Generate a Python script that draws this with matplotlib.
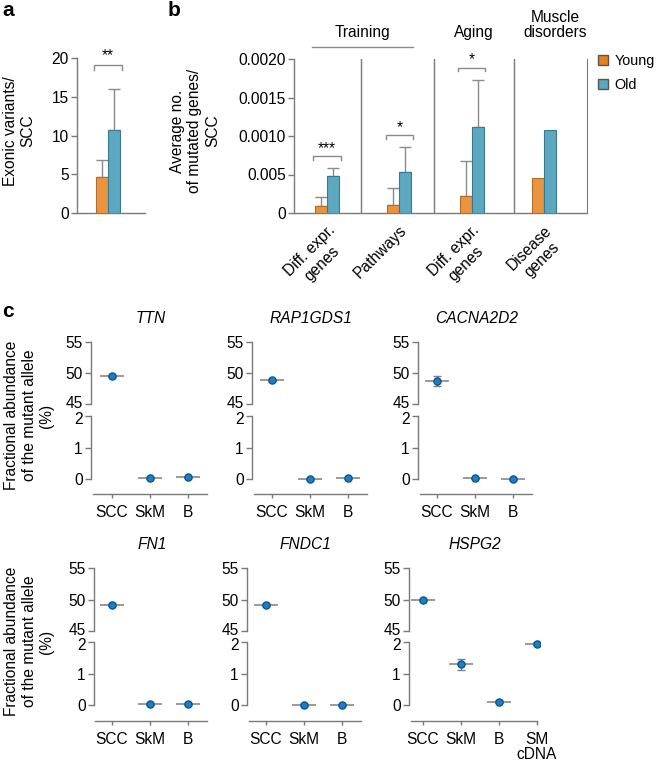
import matplotlib
matplotlib.use("Agg")
import matplotlib.pyplot as plt
from matplotlib.patches import Patch
from matplotlib.lines import Line2D
from matplotlib.transforms import ScaledTranslation

plt.rcParams['font.family'] = ['Liberation Sans', 'DejaVu Sans']
FS = 11.2
plt.rcParams['font.size'] = FS

# ---------------- data ----------------
# panel a
a_groups = ["Young", "Old"]
a_means = [4.7, 10.7]
a_err = [2.1, 5.3]

# panel b
b_categories = ["Diff. expr.\ngenes", "Pathways", "Diff. expr.\ngenes", "Disease\ngenes"]
b_young = [0.000087, 0.000104, 0.000221, 0.00045]
b_young_err = [0.000121, 0.000225, 0.000459, 0.0]
b_old = [0.000485, 0.000532, 0.00112, 0.00108]
b_old_err = [0.000099, 0.000325, 0.00061, 0.0]
b_sig = ["***", "*", "*", ""]
b_yticks = [0, 0.0005, 0.0010, 0.0015, 0.0020]
b_yticklabels = ["0", "0.005", "0.0010", "0.0015", "0.0020"]
b_headers = ["Training", "Aging", "Muscle\ndisorders"]

# panel c
c_genes = ["TTN", "RAP1GDS1", "CACNA2D2", "FN1", "FNDC1", "HSPG2"]
c_samples = [["SCC", "SkM", "B"]] * 5 + [["SCC", "SkM", "B", "SM\ncDNA"]]
c_values = [
    [49.55, 0.03, 0.05],
    [48.9, 0.0, 0.03],
    [48.7, 0.02, 0.0],
    [49.2, 0.04, 0.04],
    [49.2, 0.0, 0.0],
    [49.95, 1.29, 0.10, 1.95],
]
c_errors = [
    [0.2, 0.02, 0.02],
    [0.15, 0.02, 0.02],
    [0.75, 0.02, 0.02],
    [0.3, 0.03, 0.03],
    [0.2, 0.02, 0.02],
    [0.2, 0.17, 0.05, 0.05],
]

# ---------------- style ----------------
ORANGE = "#EB9440"
ORANGE_E = "#B06E2C"
TEAL = "#5BA8C0"
TEAL_E = "#3B7A8E"
SPINE = "#7a7a7a"
ERR = "#8a8a8a"
DOT = "#1C7FC6"
DOT_E = "#0B4F8A"

W, H = 656, 762
fig = plt.figure(figsize=(W / 100, H / 100), dpi=100)


def px_axes(x0, y0, x1, y1):
    return fig.add_axes([x0 / W, 1 - y1 / H, (x1 - x0) / W, (y1 - y0) / H])


def fx(x):
    return x / W


def fy(y):
    return 1 - y / H


def style_axes(ax):
    for s in ["top", "right"]:
        ax.spines[s].set_visible(False)
    for s in ["left", "bottom"]:
        ax.spines[s].set_color(SPINE)
        ax.spines[s].set_linewidth(1.0)
    ax.tick_params(axis="both", color=SPINE, length=4, width=1.0, labelsize=FS, pad=2)


# ---------------- panel a ----------------
axa = px_axes(77, 58, 145, 213)
style_axes(axa)
xa = [-0.2, 0.2]
axa.bar(xa, a_means, width=0.4, color=[ORANGE, TEAL], edgecolor=[ORANGE_E, TEAL_E], linewidth=0.8, zorder=3)
axa.errorbar(xa, a_means, yerr=[[0, 0], a_err], fmt="none", ecolor=ERR, elinewidth=1.0, capsize=4, capthick=1.0, zorder=2)
axa.set_ylim(0, 20)
axa.set_xlim(-1.033, 1.233)
axa.set_yticks([0, 5, 10, 15, 20])
axa.set_xticks([])
# significance bracket
axa.plot([-0.45, -0.45, 0.45, 0.45], [18.5, 19.1, 19.1, 18.5], color=ERR, lw=1.0, clip_on=False)
axa.text(0, 19.3, "**", ha="center", va="bottom", fontsize=FS)
fig.text(fx(19), fy(131), "Exonic variants/\nSCC", rotation=90, ha="center", va="center",
         multialignment="center", fontsize=FS)
fig.text(fx(8), fy(11), "a", fontsize=15, fontweight="bold", ha="center", va="center")

# ---------------- panel b ----------------
axb = px_axes(294, 59, 587, 213)
style_axes(axb)
axb.spines["right"].set_visible(True)
axb.spines["right"].set_color(SPINE)
xb = list(range(len(b_categories)))
bw = 0.166
axb.bar([x - bw / 2 for x in xb], b_young, width=bw, color=ORANGE, edgecolor=ORANGE_E, linewidth=0.8, zorder=3)
axb.bar([x + bw / 2 for x in xb], b_old, width=bw, color=TEAL, edgecolor=TEAL_E, linewidth=0.8, zorder=3)
for i in xb:
    if b_young_err[i] > 0:
        axb.errorbar(i - bw / 2, b_young[i], yerr=[[0], [b_young_err[i]]], fmt="none", ecolor=ERR,
                     elinewidth=1.0, capsize=4, capthick=1.0, zorder=2)
    if b_old_err[i] > 0:
        axb.errorbar(i + bw / 2, b_old[i], yerr=[[0], [b_old_err[i]]], fmt="none", ecolor=ERR,
                     elinewidth=1.0, capsize=4, capthick=1.0, zorder=2)
    if b_sig[i]:
        top = b_old[i] + b_old_err[i] + 0.00011
        axb.plot([i - 0.19, i - 0.19, i + 0.19, i + 0.19], [top, top + 0.00004, top + 0.00004, top],
                 color=ERR, lw=1.0)
        axb.text(i, top + 0.00005, b_sig[i], ha="center", va="bottom", fontsize=FS)
for sep in [0.47, 1.48, 2.59]:
    axb.axvline(sep, color=SPINE, lw=1.0)
axb.set_xlim(-0.456, 3.596)
axb.set_ylim(0, 0.002)
axb.set_yticks(b_yticks)
axb.set_yticklabels(b_yticklabels)
axb.set_xticks(xb)
axb.set_xticklabels(b_categories, rotation=45, ha="right", va="top", rotation_mode="anchor",
                    multialignment="center", fontsize=FS)
axb.tick_params(axis="x", length=0, pad=7)
fig.text(fx(195), fy(131), "Average no.\nof mutated genes/\nSCC", rotation=90, ha="center", va="center",
         multialignment="center", fontsize=FS)
fig.text(fx(174), fy(11), "b", fontsize=15, fontweight="bold", ha="center", va="center")
# headers
fig.text(fx(362), fy(32), b_headers[0], ha="center", va="center", fontsize=FS)
fig.add_artist(Line2D([fx(312), fx(413)], [fy(47), fy(47)], color=ERR, lw=1.0))
fig.text(fx(474), fy(32), b_headers[1], ha="center", va="center", fontsize=FS)
fig.text(fx(555), fy(25), b_headers[2], ha="center", va="center", multialignment="center",
         fontsize=FS, linespacing=1.05)
# legend
handles = [Patch(facecolor="#E8801F", edgecolor="#555555", label="Young"),
           Patch(facecolor=TEAL, edgecolor="#555555", label="Old")]
fig.legend(handles=handles, loc="upper left", bbox_to_anchor=(fx(598), fy(54)), frameon=False,
           handlelength=0.7, handleheight=0.7, handletextpad=0.45, labelspacing=0.7, fontsize=10.4,
           borderaxespad=0, borderpad=0)

# ---------------- panel c ----------------
unit = 38.0
rows = [(342, 404, 416, 479, 494), (568, 631, 642, 705, 721)]
cols = [[(91, 112), (252, 272), (418, 437)], [(94, 112), (247, 266), (409, 423)]]
fig.text(fx(8), fy(312), "c", fontsize=15, fontweight="bold", ha="center", va="center")

up = ScaledTranslation(0, 1.5 / 72, fig.dpi_scale_trans)
down = ScaledTranslation(0, -1.5 / 72, fig.dpi_scale_trans)

for g, gene in enumerate(c_genes):
    r, c = divmod(g, 3)
    y55, y45, y2, y0, yax = rows[r]
    sx, cx = cols[r][c]
    samples = c_samples[g]
    n = len(samples)
    xs = list(range(n))
    right_x = cx + (n - 1) * unit + (unit / 2 if n == 3 else 0)
    x_left = (sx - cx) / unit
    x_right = (right_x - cx) / unit
    axt = px_axes(sx, y55 - 2, right_x + 3, y45)
    axl = px_axes(sx, y2 - 2, right_x + 3, yax)
    pxu_top = (y45 - y55) / 10.0
    pxu_low = (y0 - y2) / 2.0
    axt.set_ylim(45, 55 + 2 / pxu_top)
    axl.set_ylim(-(yax - y0) / pxu_low, 2 + 2 / pxu_low)
    xr = x_right + 3 / unit
    for ax in (axt, axl):
        style_axes(ax)
        ax.set_xlim(x_left, xr)
        vals = c_values[g]
        errs = c_errors[g]
        ax.hlines(vals, [x - 0.32 for x in xs], [x + 0.32 for x in xs], color="#9a9a9a", lw=1.4, zorder=2)
        ax.errorbar(xs, vals, yerr=errs, fmt="none", ecolor="#808080", elinewidth=1.0, capsize=3,
                    capthick=1.0, zorder=2)
        ax.plot(xs, vals, "o", ms=5.2, color=DOT, mec=DOT_E, mew=0.9, zorder=3, linestyle="none")
    axt.spines["bottom"].set_visible(False)
    axt.set_xticks([])
    axt.spines["left"].set_bounds(45, 55)
    axt.set_yticks([45, 50, 55])
    axl.spines["left"].set_bounds(0, 2)
    axl.spines["bottom"].set_bounds(x_left + 1.5 / unit, x_right)
    axl.set_yticks([0, 1, 2])
    axl.set_xticks(xs)
    axl.set_xticklabels(samples, fontsize=FS, linespacing=1.0)
    axl.tick_params(axis="x", length=3, pad=5)
    axt.set_title(gene, fontstyle="italic", fontsize=FS, pad=12)
    fig.canvas.draw()
    lab45 = axt.get_yticklabels()[0]
    lab45.set_transform(lab45.get_transform() + up)
    lab2 = axl.get_yticklabels()[-1]
    lab2.set_transform(lab2.get_transform() + down)

for (y55, y45, y2, y0, yax) in rows:
    fig.text(fx(29), fy((y55 + y0) / 2 + 5), "Fractional abundance\nof the mutant allele\n(%)", rotation=90,
             ha="center", va="center", multialignment="center", fontsize=FS)

fig.savefig("out.png", dpi=100)
